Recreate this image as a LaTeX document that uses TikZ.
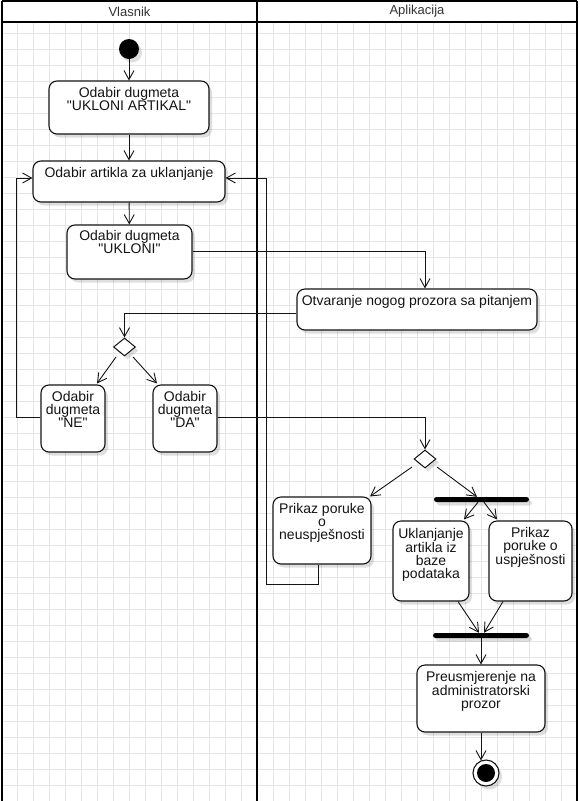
\documentclass[tikz,border=0pt]{standalone}
\usepackage{fontspec}
\setmainfont{Liberation Sans}
% plain family without TeX ligatures, so that " stays a straight quote
\newfontfamily\lbfont{Liberation Sans}
\usetikzlibrary{arrows.meta,shapes.geometric,shadows}
\definecolor{gridc}{RGB}{230,230,230}
\definecolor{ink}{RGB}{20,20,20}
\begin{document}
\begin{tikzpicture}[x=1pt,y=-1pt,
  shade/.style={drop shadow={shadow xshift=3pt,shadow yshift=-3.5pt,opacity=0.13,fill=black}},
  act/.style={draw=ink,line width=1.1pt,rounded corners=8pt,fill=white,inner sep=0pt,shade},
  lbl/.style={anchor=north,align=center,inner sep=0pt,text=ink,font=\lbfont\fontsize{14}{13}\selectfont},
  choice/.style={diamond,draw=ink,line width=1pt,fill=white,inner sep=0pt,
                 minimum width=22pt,minimum height=18pt,shade},
  bar/.style={fill=black,rounded corners=2.5pt,inner sep=0pt,minimum height=5pt,shade},
  flow/.style={draw=ink,line width=0.9pt,-{Straight Barb[length=9pt,width=10pt]}},
  gridline/.style={draw=gridc,line width=1pt},
  lane/.style={draw=black,line width=2pt},
  lanetitle/.style={text=black!80,font=\lbfont\fontsize{13}{13}\selectfont,inner sep=0pt}]

\useasboundingbox (0,0) rectangle (579,801);
\fill[white] (0,0) rectangle (579,801);

% background grid inside the swimlanes
\foreach \x in {17,33,...,577} \draw[gridline] (\x,23) -- (\x,801);
\foreach \y in {33,49,...,801} \draw[gridline] (3,\y) -- (576,\y);

% swimlanes
\draw[lane] (2,1) -- (577,1);
\draw[lane] (2,22) -- (577,22);
\draw[lane] (2,1) -- (2,803);
\draw[lane] (577,1) -- (577,803);
\draw[lane] (257,1) -- (257,803);
\node[lanetitle] (hv) at (129.5,11.5) {Vlasnik};
\node[lanetitle] (ha) at (417,11.5) {Aplikacija};

% activities
\node[circle,fill=black,minimum size=20pt,inner sep=0pt,shade] (start) at (129,49) {};

\node[act,minimum width=160pt,minimum height=53pt] (b1) at (129,107.5) {};
\node[lbl] (t1) at ([yshift=-7pt]b1.north) {Odabir dugmeta\\"UKLONI ARTIKAL"};

\node[act,minimum width=192pt,minimum height=41pt] (b2) at (129,181.5) {};
\node[lbl] (t2) at ([yshift=-7pt]b2.north) {Odabir artikla za uklanjanje};

\node[act,minimum width=125pt,minimum height=54pt] (b3) at (129.5,252) {};
\node[lbl] (t3) at ([yshift=-6pt]b3.north) {Odabir dugmeta\\"UKLONI"};

\node[act,minimum width=240pt,minimum height=41pt] (b4) at (417,309.5) {};
\node[lbl] (t4) at ([yshift=-7pt]b4.north) {Otvaranje nogog prozora sa pitanjem};

\node[choice] (d1) at (124.5,347) {};

\node[act,minimum width=64pt,minimum height=67pt] (ne) at (73,418.5) {};
\node[lbl] (tne) at ([yshift=-7pt]ne.north) {Odabir\\dugmeta\\"NE"};

\node[act,minimum width=64pt,minimum height=67pt] (da) at (185,418.5) {};
\node[lbl] (tda) at ([yshift=-7pt]da.north) {Odabir\\dugmeta\\"DA"};

\node[choice] (d2) at (425,459) {};

\node[act,minimum width=98pt,minimum height=67pt] (neusp) at (322,530.5) {};
\node[lbl] (tneusp) at ([yshift=-7pt]neusp.north) {Prikaz poruke\\o\\neuspješnosti};

\node[bar,minimum width=95pt] (fork) at (481.5,499.5) {};

\node[act,minimum width=76pt,minimum height=80pt] (ukl) at (431,561) {};
\node[lbl] (tukl) at ([yshift=-8pt]ukl.north) {Uklanjanje\\artikla iz\\baze\\podataka};

\node[act,minimum width=83pt,minimum height=80pt] (usp) at (530.5,561) {};
\node[lbl] (tusp) at ([yshift=-7pt]usp.north) {Prikaz\\poruke o\\uspješnosti};

\node[bar,minimum width=96pt] (join) at (481,635.5) {};

\node[act,minimum width=128pt,minimum height=67pt] (pre) at (481,698.5) {};
\node[lbl] (tpre) at ([yshift=-7pt]pre.north) {Preusmjerenje na\\administratorski\\prozor};

\node[circle,draw=ink,line width=1.1pt,fill=white,minimum size=26pt,inner sep=0pt,shade] (fin) at (486,773) {};
\node[circle,fill=black,minimum size=18pt,inner sep=0pt] (fincore) at (fin.center) {};

% control flow
\draw[flow] (start) -- (b1);
\draw[flow] (b1) -- (b2);
\draw[flow] (b2) -- (b3);
\draw[flow] ([yshift=1pt]b3.east) -| ([xshift=8pt]b4.north);
\draw[flow] ([yshift=-3.5pt]b4.west) -| (d1.north);
\draw[flow] ([xshift=-8.5pt,yshift=-10pt]d1.center) -- ([xshift=24pt,yshift=1pt]ne.north);
\draw[flow] ([xshift=8.5pt,yshift=-10pt]d1.center) -- ([xshift=-28pt,yshift=1pt]da.north);
\draw[flow] ([yshift=1.5pt]ne.west) -- ++(-24,0) |- ([yshift=3.5pt]b2.west);
\draw[flow] ([yshift=1.5pt]da.east) -| (d2.north);
\draw[flow] ([xshift=-13pt,yshift=-8pt]d2.center) -- ([xshift=48pt]neusp.north);
\draw[flow] ([xshift=12pt,yshift=-8pt]d2.center) -- ([xshift=-4.5pt]fork.north);
\draw[flow] ([xshift=-4pt]neusp.south) |- ++(-52,20) |- ([yshift=3.5pt]b2.east);
\draw[flow] ([xshift=-3.5pt]fork.south) -- ([xshift=33pt,yshift=1pt]ukl.north);
\draw[flow] ([xshift=2.5pt]fork.south) -- ([xshift=-33.5pt,yshift=1pt]usp.north);
\draw[flow] ([xshift=27pt]ukl.south) -- ([xshift=-2pt]join.north);
\draw[flow] ([xshift=-27.5pt]usp.south) -- ([xshift=3pt]join.north);
\draw[flow] (join) -- (pre);
\draw[flow] (pre.south) -- ([yshift=-1pt]pre.south |- fin.north);
\end{tikzpicture}
\end{document}
